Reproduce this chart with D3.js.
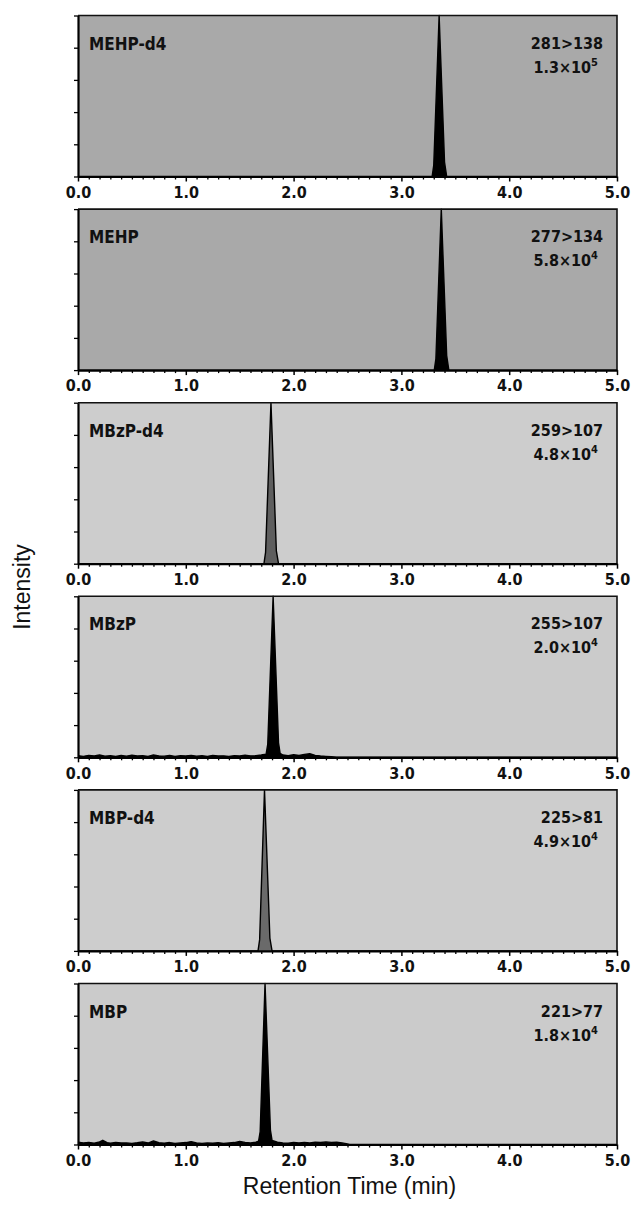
<!DOCTYPE html>
<html>
<head>
<meta charset="utf-8">
<script src="https://cdn.jsdelivr.net/npm/d3@7"></script>
<style>
  body { margin: 0; background: #fff; }
  svg { display: block; }
</style>
</head>
<body>
<svg id="chart" width="634" height="1205"></svg>
<script>
// compound names, MRM transitions and full-scale intensity (mantissa x 10^exp)
const compounds = ['MEHP-d4', 'MEHP', 'MBzP-d4', 'MBzP', 'MBP-d4', 'MBP']
const transitions = ['281>138', '277>134', '259>107', '255>107', '225>81', '221>77']
const scaleMantissa = ['1.3', '5.8', '4.8', '2.0', '4.9', '1.8']
const scaleExponent = ['5', '4', '4', '4', '4', '4']

const xTicks = [0, 1, 2, 3, 4, 5]
const xTickLabels = ['0.0', '1.0', '2.0', '3.0', '4.0', '5.0']
const yTicks = [0, 20, 40, 60, 80, 100]

// traces: [retention time (min), relative intensity (%)]
const traceMEHPd4 = [[0, 0], [3.285, 0], [3.30, 7], [3.35, 100], [3.40, 9], [3.42, 0], [5, 0]]
const traceMEHP = [[0, 0], [3.305, 0], [3.32, 7], [3.37, 100], [3.42, 9], [3.44, 0], [5, 0]]
const traceMBzPd4 = [[0, 0], [1.725, 0], [1.74, 7], [1.79, 100], [1.84, 8], [1.86, 0], [5, 0]]
const traceMBzP = [
  [0, 1.0], [0.05, 0.6], [0.10, 1.2], [0.15, 0.8], [0.20, 1.4], [0.25, 0.7], [0.30, 1.0],
  [0.35, 0.6], [0.40, 1.1], [0.45, 0.7], [0.50, 1.3], [0.55, 0.8], [0.60, 1.0], [0.65, 0.6],
  [0.70, 1.4], [0.75, 0.9], [0.80, 0.7], [0.85, 1.1], [0.90, 0.6], [0.95, 1.0], [1.00, 0.8],
  [1.05, 1.2], [1.10, 0.7], [1.15, 1.0], [1.20, 0.6], [1.25, 1.1], [1.30, 0.8], [1.35, 0.9],
  [1.40, 0.6], [1.45, 1.0], [1.50, 0.8], [1.55, 1.3], [1.60, 0.9], [1.65, 1.0], [1.70, 1.4],
  [1.745, 2], [1.76, 8], [1.81, 100], [1.86, 9], [1.875, 2.5], [1.90, 1.4], [1.95, 1.0],
  [2.00, 1.6], [2.05, 1.1], [2.10, 1.8], [2.15, 2.2], [2.20, 1.2], [2.25, 0.8], [2.30, 0.6],
  [2.35, 0.3], [2.40, 0], [5, 0]
]
const traceMBPd4 = [[0, 0], [1.67, 0], [1.685, 7], [1.73, 100], [1.78, 8], [1.80, 0], [5, 0]]
const traceMBP = [
  [0, 1.4], [0.05, 0.9], [0.10, 1.2], [0.15, 0.8], [0.20, 1.6], [0.23, 2.6], [0.27, 1.2],
  [0.30, 0.8], [0.35, 1.3], [0.40, 0.9], [0.45, 1.0], [0.50, 0.7], [0.55, 1.1], [0.60, 1.6],
  [0.65, 0.9], [0.70, 2.2], [0.75, 1.1], [0.80, 0.8], [0.85, 1.2], [0.90, 0.7], [0.95, 1.0],
  [1.00, 1.2], [1.05, 1.8], [1.10, 1.0], [1.15, 0.7], [1.20, 1.0], [1.25, 0.8], [1.30, 1.1],
  [1.35, 0.7], [1.40, 1.0], [1.45, 1.2], [1.50, 1.9], [1.55, 1.3], [1.60, 1.0], [1.65, 1.4],
  [1.675, 2], [1.69, 8], [1.735, 100], [1.785, 9], [1.80, 2.5], [1.85, 1.4], [1.90, 1.0],
  [1.95, 0.8], [2.00, 1.2], [2.05, 0.9], [2.10, 1.3], [2.15, 1.0], [2.20, 1.5], [2.25, 1.2],
  [2.30, 1.6], [2.35, 1.3], [2.40, 1.4], [2.45, 1.0], [2.50, 0.3], [2.52, 0], [5, 0]
]
const traces = [traceMEHPd4, traceMEHP, traceMBzPd4, traceMBzP, traceMBPd4, traceMBP]

// look of each panel
const panelFill = ['#a9a9a9', '#a9a9a9', '#cdcdcd', '#cbcbcb', '#cdcdcd', '#cbcbcb']
const peakFill = ['#000', '#000', '#5e5e5e', '#000', '#6a6a6a', '#000']

const left = 78
const right = 617
const top0 = 15.5
const step = 193.6
const panelH = 161

const labelFont = '"DejaVu Sans Condensed", "DejaVu Sans", Tahoma, sans-serif'

const svg = d3.select('#chart')

const x = d3.scaleLinear().domain([0, 5]).range([left, right])
const minorTicks = d3.range(0, 51).map(d => d / 10).filter(d => !xTicks.includes(d))

compounds.forEach((name, i) => {
  const top = top0 + i * step
  const y = d3.scaleLinear().domain([0, 100]).range([top + panelH, top])
  const g = svg.append('g')

  g.append('rect')
    .attr('x', left)
    .attr('y', top)
    .attr('width', right - left)
    .attr('height', panelH)
    .attr('fill', panelFill[i])

  const area = d3.area()
    .x(d => x(d[0]))
    .y0(y(0))
    .y1(d => y(d[1]))
  const line = d3.line()
    .x(d => x(d[0]))
    .y(d => y(d[1]))

  g.append('path')
    .datum(traces[i])
    .attr('d', area)
    .attr('fill', peakFill[i])
  g.append('path')
    .datum(traces[i])
    .attr('d', line)
    .attr('fill', 'none')
    .attr('stroke', '#000')
    .attr('stroke-width', 1.4)
    .attr('stroke-linejoin', 'round')

  // top and right border
  g.append('path')
    .attr('d', `M${left},${top}H${right}V${top + panelH}`)
    .attr('fill', 'none')
    .attr('stroke', '#111')
    .attr('stroke-width', 1.6)

  // minor x ticks
  g.append('g')
    .attr('transform', `translate(0,${top + panelH})`)
    .call(d3.axisBottom(x).tickValues(minorTicks).tickSize(3).tickFormat(''))
    .call(a => a.select('.domain').remove())
    .call(a => a.selectAll('line').attr('stroke-width', 1.3))

  // major x ticks with labels
  g.append('g')
    .attr('transform', `translate(0,${top + panelH})`)
    .call(d3.axisBottom(x).tickValues(xTicks).tickSize(5).tickSizeOuter(0)
      .tickFormat((d, k) => xTickLabels[k]))
    .call(a => a.select('.domain').attr('stroke-width', 2.2))
    .call(a => a.selectAll('line').attr('stroke-width', 1.5))
    .call(a => a.selectAll('text')
      .attr('y', 10)
      .attr('font-family', labelFont)
      .attr('font-weight', 'bold')
      .attr('font-size', 16)
      .attr('fill', '#111'))

  // left axis, ticks only
  g.append('g')
    .attr('transform', `translate(${left},0)`)
    .call(d3.axisLeft(y).tickValues(yTicks).tickSize(4).tickSizeOuter(0).tickFormat(''))
    .call(a => a.select('.domain').attr('stroke-width', 2.2))
    .call(a => a.selectAll('line').attr('stroke-width', 1.3))

  g.append('text')
    .attr('x', left + 11)
    .attr('y', top + 34)
    .attr('font-family', labelFont)
    .attr('font-weight', 'bold')
    .attr('font-size', 17)
    .attr('fill', '#111')
    .text(name)

  g.append('text')
    .attr('x', right - 14)
    .attr('y', top + 33)
    .attr('text-anchor', 'end')
    .attr('font-family', labelFont)
    .attr('font-weight', 'bold')
    .attr('font-size', 16)
    .attr('fill', '#111')
    .text(transitions[i])

  const sc = g.append('text')
    .attr('x', right - 19)
    .attr('y', top + 57)
    .attr('text-anchor', 'end')
    .attr('font-family', labelFont)
    .attr('font-weight', 'bold')
    .attr('font-size', 16)
    .attr('fill', '#111')
  sc.append('tspan').text(`${scaleMantissa[i]}\u00d710`)
  sc.append('tspan')
    .attr('dy', -7)
    .attr('font-size', 11)
    .text(scaleExponent[i])
})

svg.append('text')
  .attr('x', (left + right) / 2 + 2)
  .attr('y', 1194)
  .attr('text-anchor', 'middle')
  .attr('font-family', '"Liberation Sans", Arial, sans-serif')
  .attr('font-size', 23)
  .attr('fill', '#111')
  .text('Retention Time (min)')

svg.append('text')
  .attr('transform', 'translate(30,587) rotate(-90)')
  .attr('text-anchor', 'middle')
  .attr('font-family', '"Liberation Sans", Arial, sans-serif')
  .attr('font-size', 23)
  .attr('fill', '#111')
  .text('Intensity')
</script>
</body>
</html>
